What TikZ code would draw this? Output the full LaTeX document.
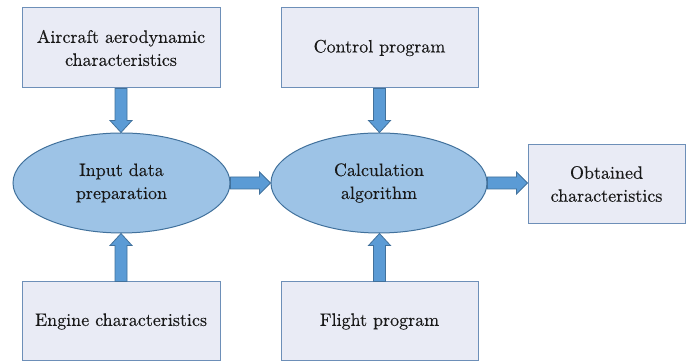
\documentclass[tikz,border=0pt]{standalone}
\usepackage{fontspec}
\newfontfamily\lmdark{lmroman10-regular.otf}[FakeBold=0.3]
\usetikzlibrary{shapes.geometric,calc}
\definecolor{boxfill}{HTML}{E9EBF5}
\definecolor{boxline}{HTML}{6D8FB8}
\definecolor{ellfill}{HTML}{9DC3E6}
\definecolor{ellline}{HTML}{41719C}
\definecolor{arrfill}{HTML}{5B9BD5}
\newcommand\arrdown[2]{\draw[blockarrow] let \p1=(#1.south), \p2=(#2.north) in
  (\x1-6,\y1) -- (\x1-6,\y2+12) -- (\x1-11,\y2+12) -- (\x1,\y2) -- (\x1+11,\y2+12) -- (\x1+6,\y2+12) -- (\x1+6,\y1) -- cycle;}
\newcommand\arrup[2]{\draw[blockarrow] let \p1=(#1.north), \p2=(#2.south) in
  (\x1-6,\y1) -- (\x1-6,\y2-12) -- (\x1-11,\y2-12) -- (\x1,\y2) -- (\x1+11,\y2-12) -- (\x1+6,\y2-12) -- (\x1+6,\y1) -- cycle;}
\newcommand\arrright[2]{\draw[blockarrow] let \p1=(#1.east), \p2=(#2.west) in
  (\x1,\y1-6) -- (\x2-11,\y1-6) -- (\x2-11,\y1-11) -- (\x2,\y1) -- (\x2-11,\y1+11) -- (\x2-11,\y1+6) -- (\x1,\y1+6) -- cycle;}
\begin{document}
\begin{tikzpicture}[x=1pt,y=1pt,
  every node/.style={font=\lmdark\fontsize{18}{23}\selectfont, text=black!90, align=center, inner sep=0pt},
  box/.style={draw=boxline, fill=boxfill, line width=1pt, rectangle},
  ell/.style={draw=ellline, fill=ellfill, line width=1pt, ellipse},
  blockarrow/.style={draw=ellline, fill=arrfill, line width=0.8pt, line join=miter}]
\useasboundingbox (0,0) rectangle (686,363);
\node[box, minimum width=198pt, minimum height=80pt] (aero) at (121,315) {Aircraft aerodynamic\\characteristics};
\node[box, minimum width=197pt, minimum height=80pt] (ctrl) at (379.5,315) {Control program};
\node[ell, minimum width=217pt, minimum height=100pt] (input) at (121.5,180) {Input data\\preparation};
\node[ell, minimum width=216pt, minimum height=100pt] (calc) at (379,180) {Calculation\\algorithm};
\node[box, minimum width=157pt, minimum height=79pt] (obt) at (606.5,179) {Obtained\\characteristics};
\node[box, minimum width=198pt, minimum height=79pt] (eng) at (121,41.5) {Engine characteristics};
\node[box, minimum width=197pt, minimum height=79pt] (flt) at (379.5,41.5) {Flight program};
\arrdown{aero}{input}
\arrdown{ctrl}{calc}
\arrup{eng}{input}
\arrup{flt}{calc}
\arrright{input}{calc}
\arrright{calc}{obt}
\end{tikzpicture}
\end{document}
